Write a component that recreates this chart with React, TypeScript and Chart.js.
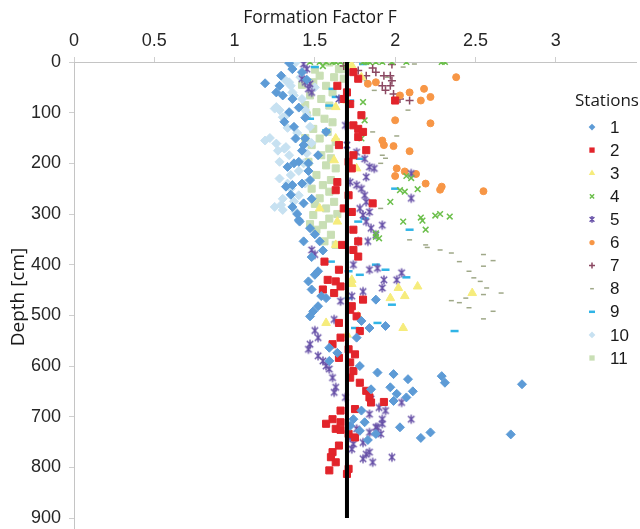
import React, { useEffect, useRef } from 'react';
import { Chart, registerables } from 'chart.js';
Chart.register(...registerables);

type Pt = [number, number]; // [formation factor F, depth cm]

const xTickValues = [0, 0.5, 1, 1.5, 2, 2.5, 3];
const yTickValues = [0, 100, 200, 300, 400, 500, 600, 700, 800, 900];
const stationNames = ['1', '2', '3', '4', '5', '6', '7', '8', '9', '10', '11'];
const referenceF = 1.7;
const referenceDepths = [0, 900];

const station1: Pt[] = [
  [1.19, 42], [1.28, 47], [1.29, 27], [1.26, 60], [1.30, 66], [1.36, 73], [1.34, 99], [1.37, 128], [1.38, 151],
  [1.33, 207], [1.37, 200], [1.32, 246], [1.36, 243], [1.36, 286], [1.40, 312], [1.34, 2], [1.36, 14],
  [1.44, 151], [1.43, 164], [1.52, 184], [1.42, 240], [1.47, 233], [1.43, 279], [1.405, 315], [1.47, 328],
  [1.43, 354], [1.57, 138], [1.40, 197], [1.46, 200], [1.42, 20], [1.45, 35], [1.40, 90], [1.44, 110],
  [1.31, 118], [1.42, 175], [1.46, 215], [1.35, 262], [1.48, 270], [1.39, 300], [1.50, 340],
  [1.53, 354], [1.52, 413], [1.50, 420], [1.46, 433], [1.48, 449], [1.54, 462], [1.49, 492], [1.47, 502],
  [1.52, 482], [1.57, 466], [1.76, 544], [1.79, 511], [1.84, 525], [1.94, 521], [1.88, 469], [1.59, 564],
  [1.64, 574], [1.59, 590], [1.78, 600], [1.89, 613], [1.99, 616], [2.08, 626], [1.97, 642], [2.01, 655],
  [2.07, 662], [2.11, 650], [2.29, 620], [2.31, 633], [2.79, 636], [1.85, 646], [1.99, 669], [1.79, 688],
  [1.74, 705], [1.81, 711], [2.03, 721], [2.22, 731], [1.88, 734], [1.72, 718], [1.78, 728], [2.16, 742],
  [2.72, 735], [1.83, 746], [1.48, 385], [1.55, 372],
];
const station2: Pt[] = [
  [1.74, 20], [1.77, 33], [1.70, 60], [1.64, 47], [1.68, 73], [2.00, 76], [1.72, 83], [1.79, 105], [1.74, 125],
  [1.77, 132], [1.80, 138], [1.77, 148], [1.65, 164], [1.82, 174], [1.74, 184], [1.71, 197], [1.73, 210],
  [1.64, 237], [1.63, 253], [1.71, 263], [1.86, 279], [1.68, 289], [1.73, 296], [1.74, 331], [1.77, 354],
  [1.67, 361], [1.74, 371], [1.77, 384], [1.56, 394], [1.65, 410], [1.58, 430], [1.63, 433], [1.66, 443],
  [1.55, 449], [1.62, 456], [1.80, 469], [1.73, 482], [1.72, 489], [1.76, 502], [1.65, 515], [1.78, 531],
  [1.66, 544], [1.61, 557], [1.71, 567], [1.75, 577], [1.65, 584], [1.72, 593], [1.74, 610], [1.72, 623],
  [1.78, 633], [1.82, 649], [1.84, 662], [1.85, 672], [1.93, 671], [1.66, 688], [1.75, 685], [1.61, 705],
  [1.66, 711], [1.57, 714], [1.63, 724], [1.71, 734], [1.66, 726], [1.75, 741], [1.65, 757], [1.61, 770],
  [1.63, 790], [1.59, 806], [1.70, 813], [1.71, 803], [1.60, 780],
];
const station3: Pt[] = [
  [1.73, 7], [1.79, 30], [1.70, 76], [1.63, 89], [1.63, 151], [1.62, 194], [1.76, 210], [1.64, 315], [1.53, 289],
  [1.63, 361], [1.73, 430], [1.73, 438], [2.02, 446], [2.14, 443], [1.97, 466], [2.06, 462], [2.48, 456],
  [1.77, 502], [1.57, 515], [2.05, 525], [1.70, 538],
];
const station4: Pt[] = [
  [1.47, 0], [1.53, 0], [1.57, 0], [1.61, 0], [1.63, 0], [1.66, 0], [1.80, 0], [1.82, 0], [1.84, 0], [1.88, 0],
  [1.92, 0], [1.98, 0], [2.07, 0], [2.29, 0], [2.31, 0], [1.55, 8], [1.70, 5], [1.80, 79], [1.81, 115],
  [1.79, 151], [2.07, 225], [2.10, 229], [2.03, 253], [2.06, 256], [2.14, 251], [1.97, 276], [2.16, 307],
  [2.17, 313], [2.25, 303], [2.28, 300], [2.34, 305], [2.05, 315], [2.19, 331], [1.88, 338], [1.88, 345],
  [1.90, 348],
];
const station5: Pt[] = [
  [1.43, 4], [1.45, 14], [1.42, 33], [1.44, 40], [1.47, 43], [1.46, 53], [1.48, 60], [1.65, 73], [1.69, 125],
  [1.70, 164], [1.76, 178], [1.81, 191], [1.84, 207], [1.87, 210], [1.82, 227], [2.10, 220], [1.72, 237],
  [1.76, 243], [1.79, 250], [1.81, 263], [1.82, 276], [1.78, 289], [1.84, 296], [2.10, 269], [1.80, 302],
  [1.82, 315], [1.85, 328], [1.88, 341], [1.92, 322], [1.77, 354], [1.83, 354], [1.48, 371], [1.50, 380],
  [1.74, 400], [1.84, 410], [1.89, 407], [1.93, 430], [1.92, 446], [2.01, 430], [2.04, 416], [1.80, 453],
  [1.73, 462], [1.66, 472], [1.62, 508], [1.52, 544], [1.47, 557], [1.46, 567], [1.52, 580], [1.55, 590],
  [1.59, 606], [1.61, 623], [1.63, 642], [1.62, 652], [1.69, 662], [1.85, 665], [1.90, 682], [2.04, 672],
  [1.94, 688], [2.10, 705], [1.84, 695], [1.92, 705], [1.89, 721], [1.76, 724], [1.72, 741], [1.74, 754],
  [1.73, 764], [1.80, 751], [1.84, 731], [1.88, 721], [1.92, 714], [1.91, 734], [1.82, 774], [1.80, 783],
  [1.84, 770], [1.86, 790], [1.98, 780], [1.50, 530], [1.57, 600],
];
const station6: Pt[] = [
  [2.38, 30], [1.88, 40], [1.83, 43], [2.03, 66], [2.09, 60], [2.18, 53], [2.16, 76], [2.22, 69], [2.00, 115],
  [2.22, 121], [1.92, 155], [1.93, 164], [1.99, 166], [2.09, 176], [2.01, 210], [2.06, 216], [2.00, 225],
  [2.13, 221], [2.19, 240], [2.29, 246], [2.28, 252], [2.55, 255],
];
const station7: Pt[] = [
  [1.77, 17], [1.82, 27], [1.88, 20], [1.93, 27], [1.97, 27], [1.98, 37], [1.92, 47], [1.97, 47], [1.94, 56],
  [1.99, 63], [2.03, 73], [2.09, 76], [1.98, 5], [1.86, 12], [1.68, 8],
];
const station8: Pt[] = [
  [2.12, 4], [2.05, 10], [1.82, 37], [1.87, 56], [1.86, 138], [2.01, 146], [1.92, 184], [1.94, 190], [1.91, 200],
  [1.91, 289], [2.09, 351], [2.19, 361], [2.20, 366], [2.28, 371], [2.35, 377], [2.40, 394], [2.55, 380],
  [2.61, 392], [2.55, 403], [2.46, 413], [2.49, 426], [2.53, 433], [2.57, 446], [2.66, 456], [2.55, 459],
  [2.44, 466], [2.35, 471], [2.40, 475], [2.46, 485], [2.61, 492], [2.55, 507], [1.95, 30], [2.08, 95],
];
const station9: Pt[] = [
  [1.50, 10], [1.80, 4], [1.61, 53], [1.63, 69], [1.72, 76], [1.47, 112], [1.59, 86], [1.57, 135], [1.78, 191],
  [2.00, 250], [1.77, 315], [1.81, 309], [2.09, 331], [1.71, 413], [1.78, 420], [1.94, 410], [1.88, 400],
  [2.07, 425], [1.98, 479], [1.71, 466], [1.89, 515], [1.75, 525], [2.37, 531], [1.60, 394],
];
const station10: Pt[] = [
  [1.26, 89], [1.28, 95], [1.30, 109], [1.19, 155], [1.26, 161], [1.32, 168], [1.28, 197], [1.34, 184],
  [1.25, 286], [1.29, 282], [1.30, 292], [1.35, 47], [1.37, 66], [1.25, 92], [1.34, 40], [1.36, 60],
  [1.42, 73], [1.45, 105], [1.47, 128], [1.31, 109], [1.38, 1], [1.36, 14], [1.32, 37], [1.31, 171],
  [1.35, 223], [1.35, 250], [1.40, 263], [1.43, 200], [1.39, 140], [1.45, 180], [1.41, 30], [1.50, 50],
  [1.44, 95], [1.33, 130], [1.28, 230], [1.37, 275], [1.22, 150], [1.27, 175], [1.40, 215], [1.33, 240],
  [1.44, 240], [1.38, 295], [1.30, 270], [1.48, 160],
];
const station11: Pt[] = [
  [1.59, 1], [1.65, 14], [1.53, 27], [1.49, 40], [1.57, 47], [1.61, 60], [1.47, 66], [1.54, 73], [1.59, 86],
  [1.51, 99], [1.45, 105], [1.56, 112], [1.61, 119], [1.49, 132], [1.58, 138], [1.53, 151], [1.63, 158],
  [1.48, 164], [1.59, 171], [1.54, 184], [1.46, 197], [1.57, 204], [1.63, 210], [1.51, 223], [1.60, 233],
  [1.55, 243], [1.48, 250], [1.59, 256], [1.53, 269], [1.62, 276], [1.57, 289], [1.49, 302], [1.59, 309],
  [1.55, 322], [1.51, 331], [1.60, 341], [1.56, 354], [1.63, 361], [1.67, 14], [1.68, 33], [1.42, 45],
  [1.44, 150], [1.50, 15], [1.62, 30], [1.44, 85], [1.60, 190], [1.50, 280], [1.64, 300], [1.47, 320],
];

const stations = [station1, station2, station3, station4, station5, station6, station7, station8, station9, station10, station11];

type MarkerStyle = { shape: string; r: number; bw: number; color: string };
const markerStyles: MarkerStyle[] = [
  { shape: 'rectRot', r: 4.5, bw: 1, color: '#5d9bd6' },
  { shape: 'rect', r: 5, bw: 1, color: '#e2242b' },
  { shape: 'triangle', r: 5, bw: 1, color: '#f6ec7c' },
  { shape: 'crossRot', r: 4, bw: 1.5, color: '#6cbf4c' },
  { shape: 'asterisk', r: 4.5, bw: 1.5, color: '#6852a8' },
  { shape: 'circle', r: 3.5, bw: 1, color: '#f79646' },
  { shape: 'cross', r: 4, bw: 1.5, color: '#8b4862' },
  { shape: 'line', r: 2.5, bw: 1.5, color: '#9fa888' },
  { shape: 'line', r: 4, bw: 2.5, color: '#30b4e6' },
  { shape: 'rectRot', r: 4.5, bw: 1, color: '#c7e1f1' },
  { shape: 'rect', r: 5, bw: 1, color: '#c9dfb5' },
];

function drawMarker(ctx: CanvasRenderingContext2D, m: MarkerStyle, x: number, y: number, scale: number) {
  const r = m.r * scale;
  ctx.save();
  ctx.fillStyle = m.color;
  ctx.strokeStyle = m.color;
  ctx.lineWidth = m.bw;
  ctx.beginPath();
  const d = r * Math.SQRT1_2;
  switch (m.shape) {
    case 'rectRot':
      ctx.moveTo(x, y - r); ctx.lineTo(x + r, y); ctx.lineTo(x, y + r); ctx.lineTo(x - r, y); ctx.closePath(); ctx.fill();
      break;
    case 'rect':
      ctx.rect(x - d, y - d, 2 * d, 2 * d); ctx.fill();
      break;
    case 'triangle':
      ctx.moveTo(x, y - r);
      ctx.lineTo(x + Math.sin(2 * Math.PI / 3) * r, y - Math.cos(2 * Math.PI / 3) * r);
      ctx.lineTo(x + Math.sin(4 * Math.PI / 3) * r, y - Math.cos(4 * Math.PI / 3) * r);
      ctx.closePath(); ctx.fill();
      break;
    case 'circle':
      ctx.arc(x, y, r, 0, Math.PI * 2); ctx.fill();
      break;
    case 'cross':
      ctx.moveTo(x - r, y); ctx.lineTo(x + r, y); ctx.moveTo(x, y - r); ctx.lineTo(x, y + r); ctx.stroke();
      break;
    case 'crossRot':
      ctx.moveTo(x - d, y - d); ctx.lineTo(x + d, y + d); ctx.moveTo(x - d, y + d); ctx.lineTo(x + d, y - d); ctx.stroke();
      break;
    case 'asterisk':
      ctx.moveTo(x - d, y - d); ctx.lineTo(x + d, y + d); ctx.moveTo(x - d, y + d); ctx.lineTo(x + d, y - d);
      ctx.moveTo(x, y - r); ctx.lineTo(x, y + r);
      ctx.stroke();
      break;
    case 'line':
      ctx.moveTo(x - r, y); ctx.lineTo(x + r, y); ctx.stroke();
      break;
  }
  ctx.restore();
}

function markerCanvas(m: MarkerStyle): HTMLCanvasElement {
  const size = Math.ceil(m.r * 2 + 3);
  const c = document.createElement('canvas');
  c.width = size;
  c.height = size;
  const cctx = c.getContext('2d');
  if (cctx) drawMarker(cctx, m, size / 2, size / 2, 1);
  return c;
}

const overlayPlugin = {
  id: 'overlay',
  afterDraw(chart: any) {
    const ctx: CanvasRenderingContext2D = chart.ctx;
    ctx.save();
    ctx.fillStyle = '#1a1a1a';
    ctx.textAlign = 'center';
    ctx.textBaseline = 'middle';
    ctx.font = '17.5px "Open Sans"';
    ctx.fillText('Formation Factor F', 320, 18);
    ctx.save();
    ctx.translate(19, 297);
    ctx.rotate(-Math.PI / 2);
    ctx.font = '19px "Open Sans"';
    ctx.fillText('Depth [cm]', 0, 0);
    ctx.restore();
    // legend
    ctx.font = '17px "Open Sans"';
    ctx.fillText('Stations', 607, 101);
    ctx.textAlign = 'left';
    ctx.font = '17px "Liberation Sans Narrow", "Liberation Sans", Arial';
    stationNames.forEach((name, i) => {
      const y = 127 + i * 23.1;
      drawMarker(ctx, markerStyles[i], 592, y, 0.75);
      ctx.fillStyle = '#1a1a1a';
      ctx.fillText(name, 610, y + 1);
    });
    ctx.restore();
  },
};

export default function App() {
  const canvasRef = useRef<HTMLCanvasElement | null>(null);
  useEffect(() => {
    document.body.style.margin = '0';
    const canvas = canvasRef.current;
    if (!canvas) return;
    const tickFont = { family: '"Liberation Sans Narrow", "Liberation Sans", Arial', size: 18 };
    const datasets: any[] = stations.map((pts, i) => {
      const m = markerStyles[i];
      return {
        label: stationNames[i],
        data: pts.map(([f, d]) => ({ x: f, y: d })),
        pointStyle: m.shape === 'asterisk' ? markerCanvas(m) : m.shape,
        pointRadius: m.r,
        pointBorderWidth: m.bw,
        backgroundColor: m.color,
        borderColor: m.color,
        showLine: false,
        order: 1,
      };
    });
    datasets.push({
      label: 'reference',
      data: referenceDepths.map((d) => ({ x: referenceF, y: d })),
      showLine: true,
      borderColor: '#000000',
      borderWidth: 4,
      pointRadius: 0,
      order: 0,
    });
    const chart = new Chart(canvas, {
      type: 'scatter',
      data: { datasets },
      options: {
        responsive: false,
        animation: false,
        layout: { autoPadding: false, padding: { left: 0, top: 0, right: 4, bottom: 0 } },
        plugins: { legend: { display: false }, tooltip: { enabled: false } },
        scales: {
          x: {
            type: 'linear',
            position: 'top',
            min: 0,
            max: 3.5,
            afterBuildTicks: (s: any) => { s.ticks = xTickValues.map((v) => ({ value: v })); },
            afterFit: (s: any) => { s.height = 62; s.paddingLeft = 0; s.paddingRight = 0; },
            ticks: { font: tickFont, color: '#262626', padding: 5, maxRotation: 0, autoSkip: false,
              callback: (v: any) => String(v) },
            grid: { drawOnChartArea: false, drawTicks: true, tickLength: 5, color: '#cfcfcf' },
            border: { color: '#c4c4c4', width: 1 },
          },
          y: {
            type: 'linear',
            reverse: true,
            min: 0,
            max: 921.7,
            afterBuildTicks: (s: any) => { s.ticks = yTickValues.map((v) => ({ value: v })); },
            afterFit: (s: any) => { s.width = 74; s.paddingTop = 0; s.paddingBottom = 0; },
            ticks: { font: tickFont, color: '#262626', padding: 8, autoSkip: false,
              callback: (v: any) => String(v) },
            grid: { drawOnChartArea: false, drawTicks: true, tickLength: 5, color: '#cfcfcf' },
            border: { color: '#c4c4c4', width: 1 },
          },
        },
      },
      plugins: [overlayPlugin],
    });
    return () => chart.destroy();
  }, []);
  return (
    <div style={{ position: 'fixed', left: 0, top: 0, width: 640, height: 529, background: '#ffffff' }}>
      <canvas ref={canvasRef} width={640} height={529} />
    </div>
  );
}
